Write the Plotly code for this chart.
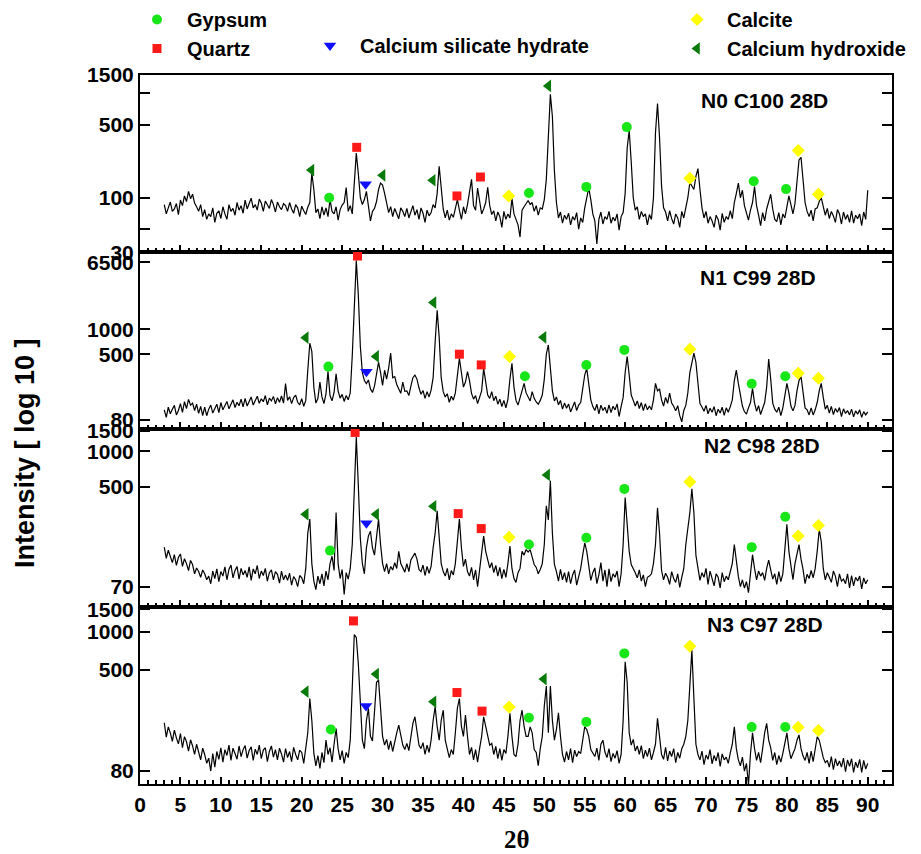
import numpy as np
import plotly.graph_objects as go

# ---------------- data ----------------
# XRD scan grid (2-theta, degrees), 0.25 deg step from 3 to 90
two_theta = np.round(np.arange(3.0, 90.001, 0.25), 2)

n0_c100 = [
    86,70,80,91,74,78,88,69,95,84,104,92,115,98,108,89,82,74,86,66,
    77,62,70,66,80,58,71,75,63,82,70,62,86,74,79,68,90,76,84,71,
    95,78,88,99,80,86,76,97,89,74,93,84,79,96,86,73,91,82,77,88,
    84,74,90,78,71,86,80,66,83,75,69,81,90,172,120,72,78,63,82,68,
    80,66,96,74,70,82,61,77,85,90,125,74,84,70,140,268,170,100,86,96,
    115,80,60,74,79,92,120,138,132,110,88,72,82,66,79,70,63,80,74,66,
    79,64,73,84,68,77,62,80,71,58,76,67,72,86,80,110,200,120,78,64,
    76,61,70,65,80,96,76,62,82,70,86,120,150,84,76,124,96,70,78,90,
    126,84,69,75,60,73,66,52,74,62,70,64,98,70,62,55,42,76,82,88,
    94,86,90,74,84,68,80,78,96,150,400,980,600,180,90,64,73,57,68,62,
    71,55,66,61,72,50,64,58,80,100,124,96,70,60,36,62,73,56,66,62,
    74,57,65,60,70,49,66,72,110,300,440,220,100,76,82,62,74,66,70,55,
    69,62,100,420,800,380,130,80,73,60,75,63,56,70,64,52,74,64,80,100,
    140,130,120,160,190,120,80,64,74,57,66,60,52,68,62,49,71,58,66,62,
    75,63,90,110,138,100,118,84,70,61,76,90,128,84,68,54,72,60,78,90,
    108,78,62,59,72,55,70,64,80,104,86,70,88,140,230,244,150,90,74,66,
    76,60,78,80,92,100,82,68,79,63,74,67,58,77,70,56,73,62,69,58,
    75,57,68,63,70,54,73,62,118,
]
n1_c99 = [
    106,86,114,95,108,120,92,104,126,99,133,110,142,121,128,104,124,96,117,90,
    114,90,108,121,97,112,124,98,130,106,118,134,109,126,140,113,131,119,143,115,
    146,118,137,152,121,140,155,127,144,133,158,122,147,136,154,125,149,131,156,128,
    220,138,153,126,149,160,131,122,145,117,138,320,680,540,200,128,145,230,152,126,
    165,310,158,136,172,290,180,147,163,134,158,140,170,480,2300,6800,2600,620,300,240,
    220,244,190,172,205,280,400,300,210,320,250,340,515,260,268,215,192,168,230,178,
    180,158,205,260,280,250,196,164,182,146,176,152,184,260,700,1700,800,260,176,152,
    166,131,155,139,170,260,446,300,200,230,307,240,168,143,158,126,152,180,337,240,
    160,146,176,137,155,124,143,116,138,112,142,250,389,200,138,121,150,180,222,170,
    150,136,176,146,132,124,138,160,250,500,647,330,180,136,152,122,138,108,128,111,
    125,100,118,132,104,121,130,180,280,337,220,140,116,104,124,95,121,104,114,96,
    122,98,117,106,125,88,116,150,300,470,280,160,138,118,136,110,130,104,126,106,
    118,106,140,222,180,190,140,118,150,127,169,128,117,103,119,90,76,104,120,170,
    300,389,515,400,200,126,115,102,120,95,111,99,116,90,108,97,114,91,112,99,
    116,140,240,321,220,160,118,101,94,112,130,193,128,102,119,93,111,130,200,437,
    250,128,108,99,114,90,112,150,222,170,118,103,120,180,240,268,170,112,106,92,
    112,92,106,130,180,222,150,108,120,97,117,93,110,99,113,88,109,96,104,92,
    108,87,103,94,106,86,101,92,100,
]
n2_c98 = [
    152,122,143,128,112,131,106,124,133,104,121,110,96,117,108,90,101,94,84,97,
    90,80,86,74,95,82,99,77,94,86,103,80,98,107,83,96,104,81,100,88,
    96,84,103,79,99,90,106,82,95,87,100,78,92,97,80,94,89,75,95,80,
    88,79,91,72,85,80,70,87,83,74,100,200,264,110,78,66,86,74,90,71,
    95,80,110,127,96,300,110,82,98,60,92,81,100,160,480,1330,511,180,110,90,
    150,190,208,150,130,200,264,160,110,94,110,90,104,97,112,100,140,110,101,93,
    110,94,118,128,135,120,98,94,107,87,104,91,104,150,200,310,180,110,94,86,
    100,80,96,88,110,170,264,150,104,120,94,86,102,80,97,70,100,150,189,140,
    120,101,112,92,106,86,102,82,98,84,110,155,100,82,76,92,100,140,130,145,
    138,145,125,108,102,90,98,110,160,343,260,561,200,108,94,78,98,80,92,76,
    94,74,88,97,72,84,100,130,165,140,100,79,92,101,74,88,112,78,97,70,
    99,77,90,84,95,70,90,160,404,250,140,108,100,92,83,97,78,88,70,84,
    86,90,110,160,329,200,96,80,91,84,73,94,82,76,90,69,84,100,160,216,
    300,478,300,130,98,79,92,84,100,73,95,81,71,90,84,68,92,77,86,80,
    94,110,160,110,85,70,80,68,77,62,90,131,100,80,95,86,92,79,100,118,
    97,81,90,73,94,77,90,140,238,140,100,80,110,130,160,120,98,74,89,82,
    96,83,100,140,216,170,100,80,92,84,76,95,86,70,90,78,81,74,90,68,
    87,71,84,78,86,67,83,74,80,
]
n3_c97 = [
    192,148,178,160,137,168,146,131,158,122,149,136,115,141,126,108,130,112,98,121,
    108,92,101,80,110,86,114,99,122,94,118,106,128,97,121,110,99,126,104,118,
    127,101,116,124,97,119,108,128,100,117,122,95,114,126,103,118,98,121,109,94,
    120,102,114,95,123,108,98,117,112,92,120,160,298,200,110,88,106,84,112,93,
    140,108,122,94,130,173,120,98,116,92,112,102,140,390,950,900,560,280,140,120,
    200,249,150,138,240,400,416,250,150,128,142,118,138,114,140,160,184,150,128,118,
    132,116,150,190,214,170,128,120,134,108,128,112,140,200,256,180,140,200,241,140,
    122,102,118,108,160,250,298,180,150,221,150,108,123,98,118,94,120,150,214,180,
    160,128,132,108,125,100,120,97,118,110,150,228,150,108,104,130,200,241,180,150,
    150,178,160,118,112,88,120,150,260,374,160,374,200,140,170,230,150,108,94,114,
    98,120,93,117,104,114,110,140,178,170,150,118,112,104,121,97,130,140,113,102,
    120,95,110,101,116,92,108,200,580,400,160,128,142,115,126,108,127,100,117,104,
    121,98,112,130,208,140,108,99,123,96,115,104,120,93,112,101,120,130,150,200,
    400,719,300,130,108,98,115,90,107,99,118,91,106,96,112,87,109,98,103,92,
    111,130,178,120,98,88,103,80,92,62,110,160,120,97,112,93,120,160,190,140,
    122,97,112,90,106,94,110,130,160,120,100,110,120,140,154,120,105,97,112,92,
    115,95,118,149,140,120,102,93,97,86,104,82,100,88,96,86,101,79,98,87,
    100,78,94,85,99,78,97,83,92,
]

panel_labels = ["N0 C100 28D", "N1 C99 28D", "N2 C98 28D", "N3 C97 28D"]

# phase identification marks: one list per panel (top to bottom)
gypsum_2theta = [[23.4, 48.1, 55.2, 60.2, 75.9, 79.9], [23.3, 47.6, 55.2, 59.9, 75.65, 79.8],
                 [23.5, 48.1, 55.2, 59.9, 75.65, 79.8], [23.6, 48.1, 55.2, 59.9, 75.65, 79.8]]
gypsum_int = [[100, 111, 127, 475, 144, 121], [354, 271, 371, 564, 219, 271],
              [142, 160, 183, 478, 152, 276], [170, 210, 195, 675, 178, 178]]
quartz_2theta = [[26.8, 39.2, 42.1], [26.9, 39.5, 42.2], [26.6, 39.35, 42.2], [26.4, 39.2, 42.3]]
quartz_int = [[304, 104, 158], [7730, 500, 371], [1452, 294, 219], [1216, 332, 237]]
csh_2theta = [[27.9], [28.0], [28.0], [27.95]]
csh_int = [[135], [307], [243], [260]]
calcite_2theta = [[45.6, 68.0, 81.4, 83.9], [45.7, 68.0, 81.4, 83.9],
                  [45.65, 68.0, 81.4, 83.9], [45.65, 68.0, 81.4, 83.9]]
calcite_int = [[104, 154, 284, 108], [470, 574, 294, 256], [185, 551, 189, 233], [256, 770, 177, 167]]
ch_2theta = [[21.2, 30.0, 36.2, 50.5], [20.5, 29.2, 36.3, 49.9], [20.5, 29.2, 36.3, 50.35],
             [20.5, 29.2, 36.3, 49.95]]
ch_int = [[184, 164, 147, 1180], [793, 470, 2110, 801], [290, 290, 340, 630], [337, 464, 281, 424]]

y_ranges = [(30, 1500), (63, 8580), (47.1, 1569), (62.9, 1574)]
y_tickvals = [[30, 50, 100, 500, 1000, 1500], [80, 500, 1000, 6500], [70, 500, 1000, 1500], [80, 500, 1000, 1500]]
y_ticktext = [["30", "", "100", "500", "", "1500"], ["80", "500", "1000", "6500"],
              ["70", "500", "1000", "1500"], ["80", "500", "1000", "1500"]]
x_tickvals = [0, 5, 10, 15, 20, 25, 30, 35, 40, 45, 50, 55, 60, 65, 70, 75, 80, 85, 90]

# ---------------- styling / layout ----------------
W, H = 921, 854
FONT = "Liberation Sans"
panel_px = [(75, 252.3), (252.3, 428.5), (428.5, 606.7), (606.7, 784.3)]
label_px = [(699, 100.7), (698, 278), (702, 445), (705, 624)]

phases = [
    ("Gypsum", gypsum_2theta, gypsum_int, "circle", 10, "#19e619", "legend"),
    ("Quartz", quartz_2theta, quartz_int, "square", 9, "#ff1a1a", "legend"),
    ("Calcium silicate hydrate", csh_2theta, csh_int, "triangle-down", 11, "#1010ff", "legend2"),
    ("Calcite", calcite_2theta, calcite_int, "diamond", 10, "#ffff00", "legend3"),
    ("Calcium hydroxide", ch_2theta, ch_int, "triangle-left", 11, "#0a7a0a", "legend3"),
]
spectra = [n0_c100, n1_c99, n2_c98, n3_c97]

fig = go.Figure()
layout = dict(
    width=W, height=H,
    margin=dict(l=0, r=0, t=0, b=0),
    paper_bgcolor="white", plot_bgcolor="white",
    font=dict(family=FONT, color="black"),
    annotations=[],
)

for i in range(4):
    xa = "x" if i == 0 else f"x{i+1}"
    ya = "y" if i == 0 else f"y{i+1}"
    fig.add_trace(go.Scatter(x=two_theta, y=spectra[i], mode="lines",
                             line=dict(color="black", width=1.2), showlegend=False,
                             xaxis=xa, yaxis=ya, hoverinfo="skip"))
    for name, px, py, sym, size, col, leg in phases:
        fig.add_trace(go.Scatter(
            x=px[i], y=py[i], mode="markers", name=name,
            marker=dict(symbol=sym, size=size, color=col, line=dict(width=0)),
            showlegend=(i == 0), legend=leg, cliponaxis=False,
            xaxis=xa, yaxis=ya))

    top, bot = panel_px[i]
    dom = [1 - bot / H, 1 - top / H]
    xkey = "xaxis" if i == 0 else f"xaxis{i+1}"
    ykey = "yaxis" if i == 0 else f"yaxis{i+1}"
    layout[xkey] = dict(
        domain=[140 / W, 892 / W], range=[0, 93], anchor=ya,
        tickmode="array", tickvals=x_tickvals,
        ticks="inside", ticklen=7, tickwidth=2, tickcolor="black",
        minor=dict(dtick=1, tick0=0, ticks="inside", ticklen=4, tickwidth=1.5, tickcolor="black"),
        showline=True, linewidth=2, linecolor="black", mirror=True,
        showgrid=False, zeroline=False, automargin=False,
        showticklabels=(i == 3),
        tickfont=dict(family=FONT, size=21, weight=700, color="black"),
    )
    lo, hi = y_ranges[i]
    layout[ykey] = dict(
        domain=dom, type="log", range=[np.log10(lo), np.log10(hi)], anchor=xa,
        tickmode="array", tickvals=y_tickvals[i], ticktext=y_ticktext[i],
        ticks="inside", ticklen=10, tickwidth=2, tickcolor="black",
        showline=True, linewidth=2, linecolor="black", mirror="ticks",
        showgrid=False, zeroline=False, automargin=False,
        tickfont=dict(family=FONT, size=21, weight=700, color="black"),
    )
    lx, ly = label_px[i]
    layout["annotations"].append(dict(
        text=panel_labels[i], x=lx / W, y=1 - ly / H, xref="paper", yref="paper",
        xanchor="left", yanchor="middle", showarrow=False,
        font=dict(family=FONT, size=21, weight=700, color="black")))

layout["annotations"].append(dict(
    text="Intensity [ log 10 ]", x=25 / W, y=1 - 453 / H, xref="paper", yref="paper",
    xanchor="center", yanchor="middle", textangle=-90, showarrow=False,
    font=dict(family=FONT, size=27, weight=700, color="black")))
layout["annotations"].append(dict(
    text="2θ", x=517 / W, y=1 - 839 / H, xref="paper", yref="paper",
    xanchor="center", yanchor="middle", showarrow=False,
    font=dict(family="Liberation Serif", size=25, weight=700, color="black")))

leg_common = dict(xanchor="left", yanchor="top", bgcolor="rgba(0,0,0,0)", borderwidth=0,
                  itemwidth=50, tracegroupgap=0,
                  font=dict(family=FONT, size=20, weight=700, color="black"))
layout["legend"] = dict(x=127 / W, y=1.0, **leg_common)
layout["legend2"] = dict(x=300 / W, y=1 - 26 / H, **leg_common)
layout["legend3"] = dict(x=667 / W, y=1.0, **leg_common)

fig.update_layout(**layout)
fig.write_html("out.html", config={"displayModeBar": False})
